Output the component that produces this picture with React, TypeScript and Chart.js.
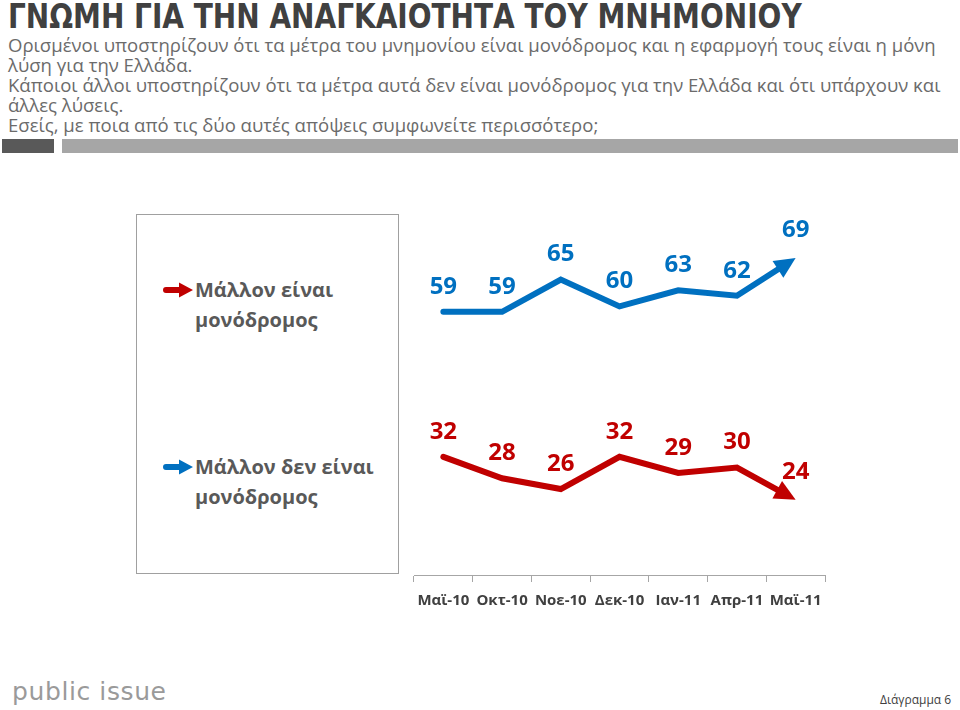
import React, { useEffect, useRef } from 'react';
import { Chart, registerables } from 'chart.js';

Chart.register(...registerables);

// ---- data ----
const categories = ['Μαϊ-10', 'Οκτ-10', 'Νοε-10', 'Δεκ-10', 'Ιαν-11', 'Απρ-11', 'Μαϊ-11'];
const isOneWay = [59, 59, 65, 60, 63, 62, 69];
const notOneWay = [32, 28, 26, 32, 29, 30, 24];
const seriesNames = ['Μάλλον είναι μονόδρομος', 'Μάλλον δεν είναι μονόδρομος'];

const BLUE = '#0070C0';
const RED = '#C00000';
const GREEK_FONT = '"Open Sans", "Noto Sans", "DejaVu Sans", sans-serif';

function arrowGeometry(meta: any) {
  const pts = meta.data;
  if (!pts || pts.length < 2) return null;
  const p = pts[pts.length - 1];
  const q = pts[pts.length - 2];
  const dx = p.x - q.x;
  const dy = p.y - q.y;
  const len = Math.hypot(dx, dy) || 1;
  const d = { x: dx / len, y: dy / len };
  const n = { x: -d.y, y: d.x };
  const L = 21;
  const W = 10;
  const b = { x: p.x - d.x * L, y: p.y - d.y * L };
  return { p, b, d, n, L, W };
}

const arrowPlugin = {
  id: 'arrowHeads',
  beforeDatasetDraw(chart: any, args: any) {
    const meta = chart.getDatasetMeta(args.index);
    const g = arrowGeometry(meta);
    const ctx = chart.ctx;
    ctx.save();
    if (!g) return;
    const { p, b, d, n } = g;
    const s = { x: b.x + d.x * 2, y: b.y + d.y * 2 };
    const e = { x: p.x + d.x * 8, y: p.y + d.y * 8 };
    const w = 9;
    ctx.beginPath();
    ctx.rect(0, 0, chart.width, chart.height);
    ctx.moveTo(s.x + n.x * w, s.y + n.y * w);
    ctx.lineTo(e.x + n.x * w, e.y + n.y * w);
    ctx.lineTo(e.x - n.x * w, e.y - n.y * w);
    ctx.lineTo(s.x - n.x * w, s.y - n.y * w);
    ctx.closePath();
    ctx.clip('evenodd');
  },
  afterDatasetDraw(chart: any, args: any) {
    const ctx = chart.ctx;
    ctx.restore();
    const meta = chart.getDatasetMeta(args.index);
    const g = arrowGeometry(meta);
    if (!g) return;
    const { p, b, n, W } = g;
    const ds = chart.data.datasets[args.index];
    ctx.save();
    ctx.fillStyle = ds.borderColor;
    ctx.beginPath();
    ctx.moveTo(p.x, p.y);
    ctx.lineTo(b.x + n.x * W, b.y + n.y * W);
    ctx.lineTo(b.x - n.x * W, b.y - n.y * W);
    ctx.closePath();
    ctx.fill();
    ctx.restore();
  },
};

const valueLabelPlugin = {
  id: 'valueLabels',
  afterDatasetsDraw(chart: any) {
    const ctx = chart.ctx;
    ctx.save();
    ctx.font = `bold 24px ${GREEK_FONT}`;
    ctx.textAlign = 'center';
    ctx.textBaseline = 'middle';
    chart.data.datasets.forEach((ds: any, di: number) => {
      const meta = chart.getDatasetMeta(di);
      const last = meta.data.length - 1;
      ctx.fillStyle = ds.borderColor;
      meta.data.forEach((pt: any, i: number) => {
        const off = i === last ? 28 : 25;
        ctx.fillText(String(ds.data[i]), pt.x, pt.y - off);
      });
    });
    ctx.restore();
  },
};

function LineChart() {
  const ref = useRef<HTMLCanvasElement | null>(null);
  useEffect(() => {
    if (!ref.current) return;
    const chart = new Chart(ref.current, {
      type: 'line',
      data: {
        labels: categories,
        datasets: [
          {
            label: seriesNames[0],
            data: isOneWay,
            borderColor: BLUE,
            backgroundColor: BLUE,
            borderWidth: 6,
            pointRadius: 0,
            tension: 0,
            borderCapStyle: 'round',
            borderJoinStyle: 'miter',
          },
          {
            label: seriesNames[1],
            data: notOneWay,
            borderColor: RED,
            backgroundColor: RED,
            borderWidth: 6,
            pointRadius: 0,
            tension: 0,
            borderCapStyle: 'round',
            borderJoinStyle: 'miter',
          },
        ],
      },
      options: {
        animation: false,
        responsive: false,
        events: [],
        layout: { padding: { left: 14, right: 15, top: 19, bottom: 0 } },
        plugins: {
          legend: { display: false },
          tooltip: { enabled: false },
        },
        scales: {
          x: {
            type: 'category',
            offset: true,
            grid: {
              display: true,
              drawOnChartArea: false,
              drawTicks: true,
              tickLength: 7,
              color: '#a6a6a6',
              offset: true,
            },
            border: { display: true, color: '#a6a6a6', width: 1 },
            ticks: {
              color: '#404040',
              padding: 10,
              maxRotation: 0,
              autoSkip: false,
              font: { family: GREEK_FONT, weight: 'bold', size: 15 },
            },
            afterFit: (s: any) => {
              s.height = 45;
            },
          },
          y: {
            display: false,
            min: 10,
            max: 80,
          },
        },
      },
      plugins: [arrowPlugin, valueLabelPlugin],
    } as any);
    return () => chart.destroy();
  }, []);
  return <canvas ref={ref} width={440} height={440} style={{ display: 'block' }} />;
}

function LegendArrow({ color }: { color: string }) {
  return (
    <svg width={30} height={16} viewBox="0 0 30 16" style={{ display: 'block' }}>
      <path d="M3 5 L16 5 L16 0.5 L30 8 L16 15.5 L16 11 L3 11 A3 3 0 0 1 3 5 Z" fill={color} />
    </svg>
  );
}

const abs = (left: number, top: number, extra: React.CSSProperties = {}): React.CSSProperties => ({
  position: 'absolute',
  left,
  top,
  whiteSpace: 'nowrap',
  ...extra,
});

const subtitleLines = [
  'Ορισμένοι υποστηρίζουν ότι τα μέτρα του μνημονίου είναι μονόδρομος και η εφαρμογή τους είναι η μόνη',
  'λύση για την Ελλάδα.',
  'Κάποιοι άλλοι υποστηρίζουν ότι τα μέτρα αυτά δεν είναι μονόδρομος για την Ελλάδα και ότι υπάρχουν και',
  'άλλες λύσεις.',
  'Εσείς, με ποια από τις δύο αυτές απόψεις συμφωνείτε περισσότερο;',
];

export default function App() {
  const legendText: React.CSSProperties = {
    fontFamily: GREEK_FONT,
    fontWeight: 700,
    fontSize: 20,
    lineHeight: '30px',
    color: '#595959',
  };
  return (
    <div
      style={{
        position: 'fixed',
        left: 0,
        top: 0,
        width: 960,
        height: 710,
        background: '#ffffff',
        overflow: 'hidden',
      }}
    >
      <div
        style={abs(8, -1, {
          fontFamily: '"DejaVu Sans Condensed", "DejaVu Sans", sans-serif',
          fontWeight: 700,
          fontSize: 34,
          lineHeight: '34px',
          color: '#404040',
          transform: 'scaleX(0.915)',
          transformOrigin: '0 0',
        })}
      >
        ΓΝΩΜΗ ΓΙΑ ΤΗΝ ΑΝΑΓΚΑΙΟΤΗΤΑ ΤΟΥ ΜΝΗΜΟΝΙΟΥ
      </div>
      <div
        style={abs(8, 35, {
          fontFamily: GREEK_FONT,
          fontSize: 18.55,
          lineHeight: '20px',
          color: '#6b6b6b',
        })}
      >
        {subtitleLines.map((l, i) => (
          <div key={i}>{l}</div>
        ))}
      </div>
      <div style={abs(2, 139, { width: 52, height: 14, background: '#595959' })} />
      <div style={abs(62, 139, { width: 896, height: 14, background: '#a6a6a6' })} />

      <div
        style={abs(136, 214, {
          width: 263,
          height: 360,
          border: '1px solid #a0a0a0',
          boxSizing: 'border-box',
        })}
      />
      <div style={abs(163, 282)}>
        <LegendArrow color={RED} />
      </div>
      <div style={abs(195, 275, legendText)}>
        <div>Μάλλον είναι</div>
        <div>μονόδρομος</div>
      </div>
      <div style={abs(163, 459)}>
        <LegendArrow color={BLUE} />
      </div>
      <div style={abs(195, 452, legendText)}>
        <div>Μάλλον δεν είναι</div>
        <div>μονόδρομος</div>
      </div>

      <div style={abs(400, 180, { width: 440, height: 440 })}>
        <LineChart />
      </div>

      <div
        style={abs(12, 679, {
          fontFamily: '"DejaVu Sans", sans-serif',
          fontSize: 25,
          lineHeight: '26px',
          letterSpacing: 0.6,
          color: '#9a9a9a',
        })}
      >
        public issue
      </div>
      <div
        style={abs(880, 692, {
          fontFamily: GREEK_FONT,
          fontSize: 12,
          lineHeight: '16px',
          color: '#404040',
        })}
      >
        Διάγραμμα 6
      </div>
    </div>
  );
}
